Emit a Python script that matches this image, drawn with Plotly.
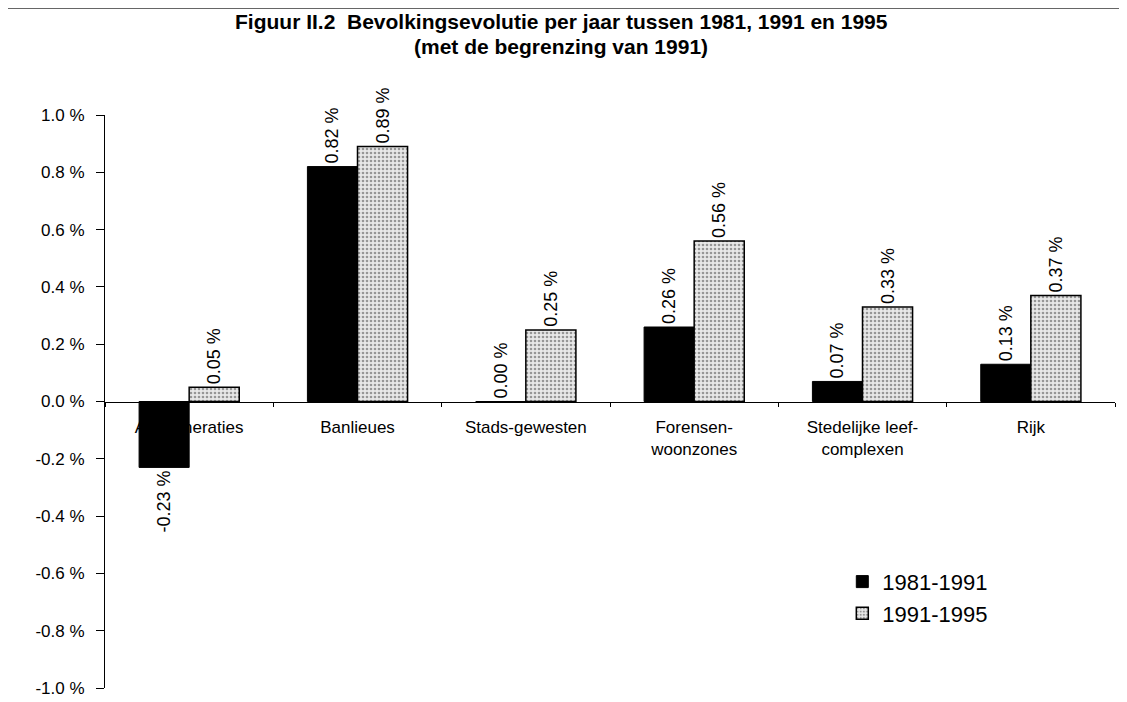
import plotly.graph_objects as go

categories = ["Agglomeraties", "Banlieues", "Stads-gewesten", "Forensen-<br>woonzones",
              "Stedelijke leef-<br>complexen", "Rijk"]
series_1981_1991 = [-0.23, 0.82, 0.00, 0.26, 0.07, 0.13]
series_1991_1995 = [0.05, 0.89, 0.25, 0.56, 0.33, 0.37]
y_ticks = [-1.0, -0.8, -0.6, -0.4, -0.2, 0.0, 0.2, 0.4, 0.6, 0.8, 1.0]
y_tick_labels = ["-1.0 %", "-0.8 %", "-0.6 %", "-0.4 %", "-0.2 %", "0.0 %",
                 "0.2 %", "0.4 %", "0.6 %", "0.8 %", "1.0 %"]
title_line_1 = "Figuur II.2  Bevolkingsevolutie per jaar tussen 1981, 1991 en 1995"
title_line_2 = "(met de begrenzing van 1991)"

font_family = "Liberation Sans, Arial, sans-serif"

fig = go.Figure()
fig.add_trace(go.Bar(
    name="1981-1991", x=categories, y=series_1981_1991,
    marker=dict(color="black", line=dict(color="black", width=1)),
    text=[f"{v:.2f} %" for v in series_1981_1991],
    textposition="outside", textangle=-90,
    textfont=dict(size=18, color="black", family=font_family),
    cliponaxis=False,
))
fig.add_trace(go.Bar(
    name="1991-1995", x=categories, y=series_1991_1995,
    marker=dict(color="white", line=dict(color="black", width=1.5),
                pattern=dict(shape=".", fgcolor="#444444", bgcolor="#e8e8e8",
                             size=4, solidity=0.35)),
    text=[f"{v:.2f} %" for v in series_1991_1995],
    textposition="outside", textangle=-90,
    textfont=dict(size=18, color="black", family=font_family),
    cliponaxis=False,
))

# page body has an 8px margin: figure is shifted by (8, 8)
fig.update_layout(
    width=1119, height=694,
    margin=dict(l=97, r=12, t=107, b=14, autoexpand=False),
    paper_bgcolor="white", plot_bgcolor="white",
    barmode="group", bargap=0.405, bargroupgap=0,
    font=dict(family=font_family, color="black"),
    showlegend=True,
    legend=dict(x=0.730, y=0.222, xanchor="left", yanchor="top",
                font=dict(size=22, color="black", family=font_family),
                bgcolor="rgba(0,0,0,0)", itemwidth=30),
    uniformtext=dict(minsize=18, mode="show"),
)

fig.add_annotation(text=f"<b>{title_line_1}</b>", xref="paper", yref="paper",
                   x=0.4515, y=1.1640, xanchor="center", yanchor="middle", showarrow=False,
                   font=dict(size=21, color="black", family=font_family))
fig.add_annotation(text=f"<b>{title_line_2}</b>", xref="paper", yref="paper",
                   x=0.4515, y=1.1204, xanchor="center", yanchor="middle", showarrow=False,
                   font=dict(size=21, color="black", family=font_family))

fig.update_xaxes(
    anchor="free", position=0.5, side="bottom",
    showline=True, linecolor="black", linewidth=1,
    ticks="outside", ticklen=4, tickcolor="black", tickson="boundaries",
    showgrid=False, zeroline=False,
    tickfont=dict(size=17, color="black", family=font_family),
    ticklabelstandoff=10, automargin=False,
    layer="below traces",
)
fig.update_yaxes(
    range=[-1.0, 1.0], tickvals=y_ticks, ticktext=y_tick_labels,
    showline=True, linecolor="black", linewidth=1,
    ticks="outside", ticklen=8, tickcolor="black",
    showgrid=False, zeroline=False,
    tickfont=dict(size=17, color="black", family=font_family),
    ticklabelstandoff=8, automargin=False,
)

# page frame lines from the scanned document
fig.add_shape(type="line", xref="paper", yref="paper", x0=-0.104, x1=1.012, y0=1.1867, y1=1.1867,
              line=dict(color="#333333", width=1.5))
fig.add_shape(type="line", xref="paper", yref="paper", x0=-0.099, x1=-0.099, y0=0.0, y1=1.1867,
              line=dict(color="#777777", width=1, dash="dash"))

fig.write_html("out.html")
